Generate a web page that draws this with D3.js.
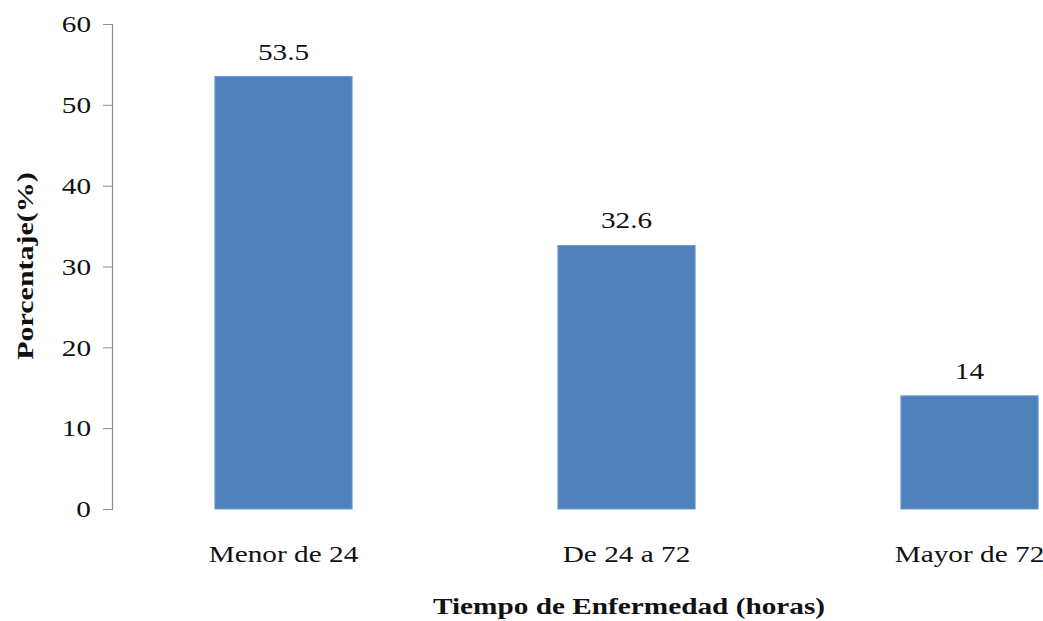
<!DOCTYPE html>
<html>
<head>
<meta charset="utf-8">
<style>
body { margin: 0; background: #fff; }
svg text { font-family: "Liberation Serif", "Times New Roman", serif; fill: #111; }
.axis path, .axis line { stroke: #8c8c8c; }
</style>
<script src="https://cdn.jsdelivr.net/npm/d3@7"></script>
</head>
<body>
<div id="chart"></div>
<script>
var categories = ["Menor de 24", "De 24 a 72", "Mayor de 72"];
var values = [53.5, 32.6, 14];
var yTicks = [0, 10, 20, 30, 40, 50, 60];

var W = 1043, H = 621;
var mLeft = 112, mTop = 24, mBottom = 509, mRight = 1141;
var sx = 1.22; // the reference type is a bit wide

var svg = d3.select("#chart").append("svg")
    .attr("width", W)
    .attr("height", H);

var x = d3.scaleBand()
    .domain(categories)
    .range([mLeft, mRight])
    .paddingInner(0.6)
    .paddingOuter(0.3);

var y = d3.scaleLinear()
    .domain([0, 60])
    .range([mBottom, mTop]);

// y axis
var yAxis = svg.append("g")
    .attr("class", "axis")
    .attr("transform", "translate(" + mLeft + ",0)")
    .call(d3.axisLeft(y).tickValues(yTicks).tickSize(9).tickSizeOuter(9).tickPadding(12));
yAxis.selectAll(".tick text")
    .style("font-size", "24px")
    .attr("x", -21 / sx)
    .attr("transform", "scale(" + sx + ",1)");
yAxis.select(".domain").attr("stroke-width", 1.2);

// bars
svg.selectAll("rect.bar")
    .data(values)
    .enter().append("rect")
    .attr("class", "bar")
    .attr("x", function(d, i) { return x(categories[i]); })
    .attr("y", function(d) { return y(d); })
    .attr("width", x.bandwidth())
    .attr("height", function(d) { return y(0) - y(d); })
    .attr("fill", "#4f81bd")
    .attr("stroke", "#6f9bd0")
    .attr("stroke-width", 1);

function label(px, py, txt, bold) {
    return svg.append("text")
        .attr("transform", "translate(" + px + "," + py + ") scale(" + sx + ",1)")
        .attr("text-anchor", "middle")
        .style("font-size", "24px")
        .style("font-weight", bold ? "bold" : "normal")
        .text(txt);
}

// value labels
values.forEach(function(d, i) {
    label(x(categories[i]) + x.bandwidth() / 2, y(d) - 17, d, false);
});

// category labels
categories.forEach(function(c) {
    label(x(c) + x.bandwidth() / 2, 562, c, false);
});

// axis titles
label(629, 614, "Tiempo de Enfermedad (horas)", true);

svg.append("text")
    .attr("transform", "translate(33,266) rotate(-90) scale(1.25,1)")
    .attr("text-anchor", "middle")
    .style("font-size", "24px")
    .style("font-weight", "bold")
    .text("Porcentaje(%)");
</script>
</body>
</html>
